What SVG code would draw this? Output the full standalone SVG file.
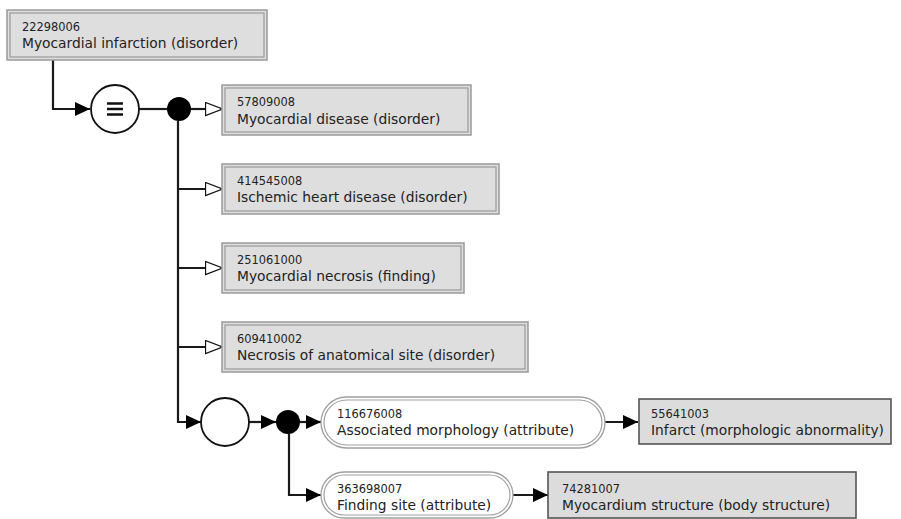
<svg xmlns="http://www.w3.org/2000/svg" width="901" height="519" viewBox="0 0 901 519">
<style>
.code{font-family:"DejaVu Sans",sans-serif;font-size:11.4px;fill:#222}
.name{font-family:"DejaVu Sans",sans-serif;font-size:13.8px;fill:#222}
.dbl-o{fill:#dedede;stroke:#9a9a9a;stroke-width:1.5}
.dbl-i{fill:none;stroke:#9a9a9a;stroke-width:1.2}
.sgl{fill:#dcdcdc;stroke:#555;stroke-width:1.6}
.att-o{fill:#fff;stroke:#a0a0a0;stroke-width:1.3}
.att-i{fill:none;stroke:#a0a0a0;stroke-width:1.2}
.conn{fill:none;stroke:#1a1a1a;stroke-width:2.2}
.op{fill:#fff;stroke:#111;stroke-width:1.8}
.dot{fill:#000}
</style>
<defs>
<marker id="fa" markerUnits="userSpaceOnUse" markerWidth="16" markerHeight="15" refX="15" refY="7" orient="auto">
<path d="M0,0 L15,7 L0,14 z" fill="#000"/>
</marker>
<marker id="oa" markerUnits="userSpaceOnUse" markerWidth="20" markerHeight="16" refX="18.5" refY="7.5" orient="auto">
<path d="M1,1 L18,7.5 L1,14 z" fill="#fff" stroke="#111" stroke-width="1.3"/>
</marker>
</defs>

<g id="connectors">
<path class="conn" d="M53,60 V109 H90" marker-end="url(#fa)"/>
<path class="conn" d="M139,109 H167"/>
<path class="conn" d="M191,109 H223" marker-end="url(#oa)"/>
<path class="conn" d="M178,121 V422 H201" marker-end="url(#fa)"/>
<path class="conn" d="M178,189 H223" marker-end="url(#oa)"/>
<path class="conn" d="M178,268 H223" marker-end="url(#oa)"/>
<path class="conn" d="M178,347 H223" marker-end="url(#oa)"/>
<path class="conn" d="M249,422 H276" marker-end="url(#fa)"/>
<path class="conn" d="M300,422 H321" marker-end="url(#fa)"/>
<path class="conn" d="M289,434 V495 H321" marker-end="url(#fa)"/>
<path class="conn" d="M605,422 H638" marker-end="url(#fa)"/>
<path class="conn" d="M513,495 H548" marker-end="url(#fa)"/>
</g>

<g id="n22298006">
<rect class="dbl-o" x="7" y="10" width="260" height="50"/>
<rect class="dbl-i" x="10" y="13" width="254" height="44"/>
<text class="code" x="22" y="31">22298006</text>
<text class="name" x="22" y="48">Myocardial infarction (disorder)</text>
</g>

<g id="equiv">
<circle class="op" cx="115" cy="109" r="24"/>
<path d="M107,103.5 H123 M107,109 H123 M107,114.5 H123" stroke="#111" stroke-width="2.6"/>
</g>
<g id="dot1"><circle class="dot" cx="179" cy="109" r="12"/></g>

<g id="n57809008">
<rect class="dbl-o" x="222" y="85" width="249" height="50"/>
<rect class="dbl-i" x="225" y="88" width="243" height="44"/>
<text class="code" x="237" y="106">57809008</text>
<text class="name" x="237" y="124">Myocardial disease (disorder)</text>
</g>

<g id="n414545008">
<rect class="dbl-o" x="222" y="164" width="277" height="50"/>
<rect class="dbl-i" x="225" y="167" width="271" height="44"/>
<text class="code" x="237" y="185">414545008</text>
<text class="name" x="237" y="202">Ischemic heart disease (disorder)</text>
</g>

<g id="n251061000">
<rect class="dbl-o" x="222" y="243" width="242" height="50"/>
<rect class="dbl-i" x="225" y="246" width="236" height="44"/>
<text class="code" x="237" y="264">251061000</text>
<text class="name" x="237" y="281">Myocardial necrosis (finding)</text>
</g>

<g id="n609410002">
<rect class="dbl-o" x="222" y="322" width="306" height="50"/>
<rect class="dbl-i" x="225" y="325" width="300" height="44"/>
<text class="code" x="237" y="343">609410002</text>
<text class="name" x="237" y="360">Necrosis of anatomical site (disorder)</text>
</g>

<g id="conj">
<circle class="op" cx="225" cy="422" r="24"/>
</g>
<g id="dot2"><circle class="dot" cx="288" cy="422" r="12"/></g>

<g id="a116676008">
<rect class="att-o" x="321" y="397" width="284" height="51" rx="25.5"/>
<rect class="att-i" x="324" y="400" width="278" height="45" rx="22.5"/>
<text class="code" x="337" y="418">116676008</text>
<text class="name" x="337" y="435">Associated morphology (attribute)</text>
</g>

<g id="n55641003">
<rect class="sgl" x="639" y="399" width="252" height="45"/>
<text class="code" x="651" y="418">55641003</text>
<text class="name" x="651" y="435">Infarct (morphologic abnormality)</text>
</g>

<g id="a363698007">
<rect class="att-o" x="321" y="472" width="192" height="46" rx="23"/>
<rect class="att-i" x="324" y="475" width="186" height="40" rx="20"/>
<text class="code" x="337" y="493">363698007</text>
<text class="name" x="337" y="510">Finding site (attribute)</text>
</g>

<g id="n74281007">
<rect class="sgl" x="548" y="472" width="308" height="46"/>
<text class="code" x="562" y="493">74281007</text>
<text class="name" x="562" y="510">Myocardium structure (body structure)</text>
</g>
</svg>
